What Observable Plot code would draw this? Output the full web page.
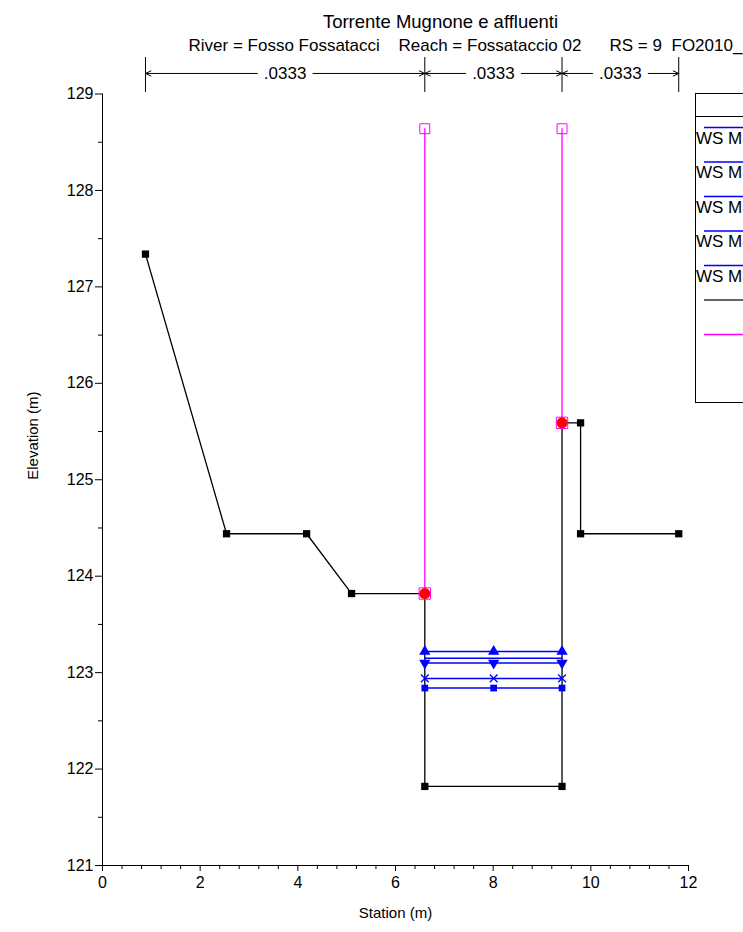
<!DOCTYPE html>
<html><head><meta charset="utf-8">
<script src="https://cdn.jsdelivr.net/npm/d3@7"></script>
<script src="https://cdn.jsdelivr.net/npm/@observablehq/plot@0.6"></script>
<style>body{margin:0;background:#fff;} #chart svg{overflow:hidden;}</style>
</head><body><div id="chart"></div>
<script>
// ---- data ----
const groundStation = [0.88, 2.54, 4.18, 5.10, 6.60, 6.60, 9.41, 9.41, 9.79, 9.79, 11.80];
const groundElev    = [127.34, 124.44, 124.44, 123.82, 123.82, 121.82, 121.82, 125.59, 125.59, 124.44, 124.44];
const wsNames   = ["WS Max WS - TR200", "WS Max WS - TR100", "WS Max WS - TR50", "WS Max WS - TR30", "WS Max WS - TR20"];
const wsElev    = [123.22, 123.15, 123.10, 122.94, 122.84];
const wsSymbol  = ["up", "none", "down", "times", "square"];
const wsStation = [6.60, 8.01, 9.41];
const leveeStation = [6.60, 9.41];
const leveeTop     = [128.64, 128.64];
const leveeElev    = [123.82, 125.59];
const nStation = [0.88, 6.60, 9.41, 11.80];
const nValue   = [".0333", ".0333", ".0333"];
const xTicks = [0, 2, 4, 6, 8, 10, 12];
const xMinorTicks = [0.4, 0.8, 1.2, 1.6, 2.4, 2.8, 3.2, 3.6, 4.4, 4.8, 5.2, 5.6, 6.4, 6.8, 7.2, 7.6, 8.4, 8.8, 9.2, 9.6, 10.4, 10.8, 11.2, 11.6];
const yTicks = [121, 122, 123, 124, 125, 126, 127, 128, 129];
const yMinorTicks = [121.5, 122.5, 123.5, 124.5, 125.5, 126.5, 127.5, 128.5];
const titleText = "Torrente Mugnone e affluenti";
const subtitleParts = ["River = Fosso Fossatacci", "Reach = Fossataccio 02", "RS = 9", "FO2010_9"];
const legendEntries = ["WS Max WS - TR200", "WS Max WS - TR100", "WS Max WS - TR50", "WS Max WS - TR30", "WS Max WS - TR20", "Ground", "Levee"];

// ---- tables built from the arrays ----
const ground = groundStation.map((s, i) => ({station: s, elev: groundElev[i]}));
const ws = [];
wsNames.forEach((n, k) => wsStation.forEach(s => ws.push({name: n, sym: wsSymbol[k], station: s, elev: wsElev[k]})));
const levee = leveeStation.map((s, i) => ({station: s, top: leveeTop[i], elev: leveeElev[i]}));
const nBars = nValue.map((v, i) => ({v, a: nStation[i], b: nStation[i + 1], mid: (nStation[i] + nStation[i + 1]) / 2}));
const gap = 0.57;
const nArrows = [];
nBars.forEach(d => { nArrows.push({x1: d.mid - gap, x2: d.a}); nArrows.push({x1: d.mid + gap, x2: d.b}); });
const nY = 129.213, nTop = 129.378, nBot = 129.016;

const downTriangle = {
  draw(context, size) {
    const sqrt3 = Math.sqrt(3);
    const y = -Math.sqrt(size / (sqrt3 * 3));
    context.moveTo(0, -y * 2);
    context.lineTo(-sqrt3 * y, y);
    context.lineTo(sqrt3 * y, y);
    context.closePath();
  }
};
const BLUE = "#0000ff", MAG = "#ff00ff";

const chart = Plot.plot({
  width: 743, height: 932,
  marginLeft: 102, marginRight: 55, marginTop: 93.5, marginBottom: 67,
  x: {domain: [0, 12]},
  y: {domain: [121, 129]},
  style: {fontFamily: "'Liberation Sans', Arial, sans-serif", fontSize: "16px", background: "white", overflow: "hidden"},
  marks: [
    // axes
    Plot.ruleX([0], {stroke: "black"}),
    Plot.ruleY([121], {stroke: "black"}),
    Plot.axisY(yTicks, {tickSize: 7, tickPadding: 2, fontSize: 16, tickFormat: d => String(d), label: null, stroke: "black"}),
    Plot.axisY(yMinorTicks, {tickSize: 4, tickFormat: () => "", label: null, stroke: "black"}),
    Plot.axisX(xTicks, {tickSize: 6, tickPadding: 5, fontSize: 16, tickFormat: d => String(d), label: null, stroke: "black"}),
    Plot.axisX(xMinorTicks, {tickSize: 4, tickFormat: () => "", label: null, stroke: "black"}),
    Plot.text(["Elevation (m)"], {frameAnchor: "left", dx: -69, rotate: -90, fontSize: 15, fill: "black"}),
    Plot.text(["Station (m)"], {frameAnchor: "bottom", dy: 52, fontSize: 15, fill: "black"}),
    // titles
    Plot.text([titleText], {frameAnchor: "top-left", dx: 338, dy: -66.5, lineAnchor: "bottom", textAnchor: "middle", fontSize: 18.5, fill: "black"}),
    Plot.text([subtitleParts[0]], {frameAnchor: "top-left", dx: 86, dy: -42.8, lineAnchor: "bottom", textAnchor: "start", fontSize: 17, fill: "black"}),
    Plot.text([subtitleParts[1]], {frameAnchor: "top-left", dx: 296, dy: -42.8, lineAnchor: "bottom", textAnchor: "start", fontSize: 17, fill: "black"}),
    Plot.text([subtitleParts[2]], {frameAnchor: "top-left", dx: 507, dy: -42.8, lineAnchor: "bottom", textAnchor: "start", fontSize: 17, fill: "black"}),
    Plot.text([subtitleParts[3]], {frameAnchor: "top-left", dx: 569, dy: -42.8, lineAnchor: "bottom", textAnchor: "start", fontSize: 17, fill: "black"}),
    // Manning's n bar
    Plot.ruleX(nStation, {x: d => d, y1: nBot, y2: nTop, stroke: "black", strokeWidth: 1}),
    Plot.arrow(nArrows, {x1: "x1", x2: "x2", y1: nY, y2: nY, stroke: "black", strokeWidth: 1, headLength: 9, headAngle: 50, bend: 0}),
    Plot.text(nBars, {x: "mid", y: nY, text: "v", fontSize: 17, fill: "black"}),
    // levee (magenta)
    Plot.ruleX(levee, {x: "station", y1: "elev", y2: "top", stroke: MAG, strokeWidth: 1.3}),
    Plot.dot(levee, {x: "station", y: "top", symbol: "square", r: 5.6, stroke: MAG, fill: "none", strokeWidth: 1}),
    // ground
    Plot.line(ground, {x: "station", y: "elev", stroke: "black", strokeWidth: 1.3}),
    Plot.dot(ground, {x: "station", y: "elev", symbol: "square", r: 4.1, fill: "black"}),
    // water surfaces
    Plot.line(ws, {x: "station", y: "elev", z: "name", stroke: BLUE, strokeWidth: 1.5}),
    Plot.dot(ws.filter(d => d.sym === "up"), {x: "station", y: "elev", symbol: "triangle", r: 4.2, fill: BLUE}),
    Plot.dot(ws.filter(d => d.sym === "down"), {x: "station", y: "elev", symbol: downTriangle, r: 4.2, fill: BLUE}),
    Plot.dot(ws.filter(d => d.sym === "times"), {x: "station", y: "elev", symbol: "times", r: 3.6, stroke: BLUE, strokeWidth: 1.3}),
    Plot.dot(ws.filter(d => d.sym === "square"), {x: "station", y: "elev", symbol: "square", r: 3.8, fill: BLUE}),
    // levee points on ground
    Plot.dot(levee, {x: "station", y: "elev", symbol: "square", r: 6.4, stroke: MAG, fill: "none", strokeWidth: 1}),
    Plot.dot(levee, {x: "station", y: "elev", symbol: "circle", r: 5.5, fill: "#ff0000"})
  ]
});

// legend box (partly outside the window, as in the reference)
const svg = d3.select(chart);
const lg = svg.append("g").attr("font-family", "'Liberation Sans', Arial, sans-serif").attr("font-size", 17).attr("text-anchor", "start");
lg.append("rect").attr("x", 695.5).attr("y", 93.5).attr("width", 220).attr("height", 309).attr("fill", "white").attr("stroke", "black");
lg.append("line").attr("x1", 695.5).attr("x2", 915).attr("y1", 116.5).attr("y2", 116.5).attr("stroke", "black");
const legendColors = [BLUE, BLUE, BLUE, BLUE, BLUE, "#333333", MAG];
legendEntries.forEach((name, i) => {
  const y = 127.5 + i * 34.5;
  lg.append("line").attr("x1", 704).attr("x2", 800).attr("y1", y).attr("y2", y).attr("stroke", legendColors[i]).attr("stroke-width", 1.3);
  if (i < 5) lg.append("text").attr("x", 696).attr("y", y + 16).attr("fill", "black").attr("text-anchor", "start").text(name);
});

document.getElementById("chart").appendChild(chart);
</script>
</body></html>
